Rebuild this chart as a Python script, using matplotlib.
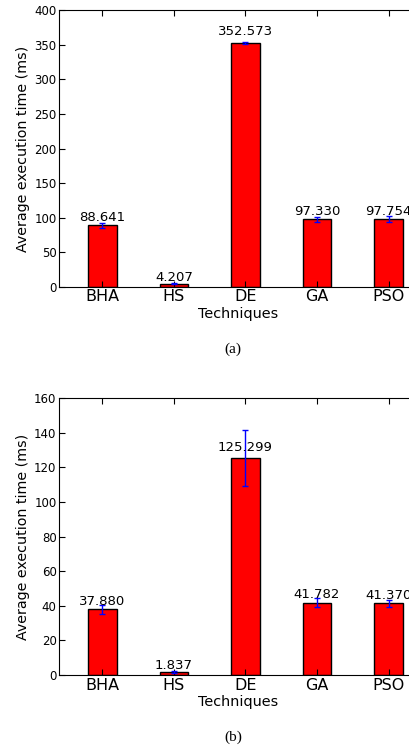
import numpy as np
import matplotlib
matplotlib.use("Agg")
import matplotlib.pyplot as plt

techniques = ["BHA", "HS", "DE", "GA", "PSO"]

# run (a)
times_a = [88.641, 4.207, 352.573, 97.330, 97.754]
err_a = [4.0, 0.5, 1.0, 4.0, 4.0]

# run (b)
times_b = [37.880, 1.837, 125.299, 41.782, 41.370]
err_b = [2.5, 0.5, 16.0, 2.5, 2.2]


def draw_panel(ax, times, errs, ymax, ystep):
    x = np.arange(len(techniques))
    bars = ax.bar(x, times, 0.4, color="red", edgecolor="black", linewidth=1.0,
                  yerr=errs, ecolor="blue", capsize=2.5,
                  error_kw=dict(elinewidth=1.0, capthick=1.0))
    for rect, h in zip(bars, times):
        ax.text(rect.get_x() + rect.get_width() / 2., 1.02 * h, "%.3f" % h,
                ha="center", va="bottom", fontsize=9.5)
    ax.set_xlim(-0.6, 4.4)
    ax.set_ylim(0, ymax)
    ax.set_yticks(np.arange(0, ymax + 1, ystep))
    ax.set_xticks(x)
    ax.set_xticklabels(techniques, fontsize=11.5)
    ax.tick_params(axis="y", labelsize=8.5, direction="in", length=4, pad=2)
    ax.tick_params(axis="x", direction="in", length=4, pad=2, top=True)
    ax.set_xlabel("Techniques", fontsize=10.4, labelpad=1.5)
    ax.set_ylabel("Average execution time (ms)", fontsize=10.3, labelpad=3)


fig = plt.figure(figsize=(4.09, 7.47), dpi=100)

ax1 = fig.add_axes([0.1450, 0.6162, 0.875, 0.3700])
draw_panel(ax1, times_a, err_a, 400, 50)

ax2 = fig.add_axes([0.1450, 0.0964, 0.875, 0.3707])
draw_panel(ax2, times_b, err_b, 160, 20)

fig.text(0.570, 1 - 349 / 747., "(a)", ha="center", va="center",
         family="Liberation Serif", fontsize=11)
fig.text(0.570, 1 - 737 / 747., "(b)", ha="center", va="center",
         family="Liberation Serif", fontsize=11)

fig.savefig("out.png", dpi=100)
